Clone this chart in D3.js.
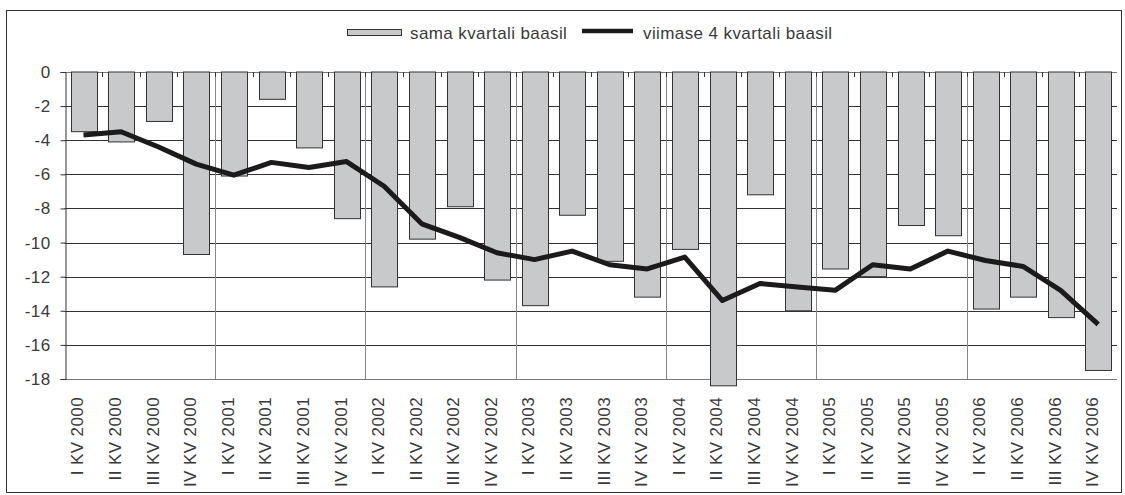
<!DOCTYPE html>
<html>
<head>
<meta charset="utf-8">
<script src="https://cdn.jsdelivr.net/npm/d3@7"></script>
<style>
  body { margin: 0; background: #fff; }
  svg { display: block; font-family: "Liberation Sans", Arial, sans-serif; }
</style>
</head>
<body>
<svg></svg>
<script>
// quarters, values in %
var categories = ['I KV 2000', 'II KV 2000', 'III KV 2000', 'IV KV 2000',
                  'I KV 2001', 'II KV 2001', 'III KV 2001', 'IV KV 2001',
                  'I KV 2002', 'II KV 2002', 'III KV 2002', 'IV KV 2002',
                  'I KV 2003', 'II KV 2003', 'III KV 2003', 'IV KV 2003',
                  'I KV 2004', 'II KV 2004', 'III KV 2004', 'IV KV 2004',
                  'I KV 2005', 'II KV 2005', 'III KV 2005', 'IV KV 2005',
                  'I KV 2006', 'II KV 2006', 'III KV 2006', 'IV KV 2006']
var samaKvartali = [-3.5, -4.1, -2.9, -10.7, -6.1, -1.6, -4.45, -8.6,
                    -12.6, -9.8, -7.9, -12.2, -13.7, -8.4, -11.1, -13.2,
                    -10.4, -18.4, -7.2, -14.0, -11.55, -12.0, -9.0, -9.6,
                    -13.9, -13.2, -14.4, -17.5]
var viimase4 = [-3.7, -3.5, -4.4, -5.4, -6.05, -5.3, -5.6, -5.25,
                -6.7, -8.9, -9.7, -10.6, -11.0, -10.5, -11.3, -11.55,
                -10.85, -13.4, -12.4, -12.6, -12.8, -11.3, -11.55, -10.5,
                -11.05, -11.4, -12.8, -14.8]
var yTicks = [0, -2, -4, -6, -8, -10, -12, -14, -16, -18]
var legendLabels = ['sama kvartali baasil', 'viimase 4 kvartali baasil']

function main() {
    var svgWidth = 1125, svgHeight = 495
    var left = 64.7, right = 1117, top = 72, bottom = 379
    var fontSize = 17, spacing = 0.4, textColor = '#3a3a3a'

    var svg = d3.select('svg').attr('width', svgWidth).attr('height', svgHeight)

    // outer frame
    svg.append('rect')
        .attr('x', 6.5).attr('y', 10.5)
        .attr('width', 1115).attr('height', 482)
        .attr('fill', 'none').attr('stroke', '#333').attr('stroke-width', 1)

    var xScale = d3.scaleBand()
        .domain(categories)
        .range([left, right])
        .paddingInner(0.32)
        .paddingOuter(0.16)
    var step = xScale.step()
    var boundary = function(d) {return Math.round(xScale(d) - xScale.paddingInner() * step / 2) + 0.5}

    var yScale = d3.scaleLinear()
        .domain([-18, 0])
        .range([bottom, top])

    // horizontal gridlines
    svg.append('g')
        .selectAll('line')
        .data(yTicks)
        .enter().append('line')
        .attr('x1', left).attr('x2', right)
        .attr('y1', function(d) {return Math.round(yScale(d)) + 0.5})
        .attr('y2', function(d) {return Math.round(yScale(d)) + 0.5})
        .attr('stroke', function(d) {return d === 0 || d === -18 ? '#777' : '#333'})
        .attr('stroke-width', 1)

    // year separators
    var yearStarts = categories.filter(function(d, i) {return i > 0 && i % 4 === 0})
    svg.append('g')
        .selectAll('line')
        .data(yearStarts)
        .enter().append('line')
        .attr('x1', boundary).attr('x2', boundary)
        .attr('y1', top).attr('y2', bottom)
        .attr('stroke', '#888').attr('stroke-width', 1)

    // small category ticks below zero line
    svg.append('g')
        .selectAll('line')
        .data(categories.slice(1))
        .enter().append('line')
        .attr('x1', boundary).attr('x2', boundary)
        .attr('y1', top).attr('y2', top + 5)
        .attr('stroke', '#333').attr('stroke-width', 1)

    // y axis
    var yAxis = d3.axisLeft(yScale).tickValues(yTicks).tickSize(5).tickPadding(10)
        .tickFormat(function(d) {return d === 0 ? '0' : '-' + Math.abs(d)})
    var gy = svg.append('g')
        .attr('transform', 'translate(' + (Math.round(left) + 0.5) + ',0)')
        .call(yAxis)
    gy.select('.domain').attr('stroke', '#333')
    gy.selectAll('.tick line').attr('stroke', '#333')
    gy.selectAll('.tick text')
        .attr('font-size', fontSize).attr('fill', textColor)
        .attr('letter-spacing', spacing)
        .attr('font-family', '"Liberation Sans", Arial, sans-serif')

    // bars
    svg.append('g')
        .selectAll('rect')
        .data(samaKvartali)
        .enter().append('rect')
        .attr('x', function(d, i) {return Math.round(xScale(categories[i])) + 0.5})
        .attr('y', yScale(0))
        .attr('width', Math.round(xScale.bandwidth()))
        .attr('height', function(d) {return yScale(d) - yScale(0)})
        .attr('fill', '#c8c9cb')
        .attr('stroke', '#333')
        .attr('stroke-width', 1)

    // line
    var line = d3.line()
        .x(function(d, i) {return xScale(categories[i]) + xScale.bandwidth() / 2})
        .y(function(d) {return yScale(d)})
    svg.append('path')
        .datum(viimase4)
        .attr('d', line)
        .attr('fill', 'none')
        .attr('stroke', '#1c1a1a')
        .attr('stroke-width', 5)
        .attr('stroke-linejoin', 'round')

    // x labels (rotated)
    svg.append('g')
        .selectAll('text')
        .data(categories)
        .enter().append('text')
        .attr('transform', function(d) {
            return 'translate(' + (xScale(d) + xScale.bandwidth() / 2 - 6) + ',397) rotate(-90)'})
        .attr('text-anchor', 'end')
        .attr('dy', '0.35em')
        .attr('font-size', fontSize)
        .attr('letter-spacing', spacing)
        .attr('fill', textColor)
        .text(function(d) {return d})

    // legend
    var legend = svg.append('g')
    legend.append('rect')
        .attr('x', 347.5).attr('y', 29.5)
        .attr('width', 54).attr('height', 6)
        .attr('fill', '#c8c9cb').attr('stroke', '#333')
    legend.append('text')
        .attr('x', 410).attr('y', 39)
        .attr('font-size', fontSize).attr('letter-spacing', spacing).attr('fill', textColor)
        .text(legendLabels[0])
    legend.append('line')
        .attr('x1', 582).attr('x2', 633)
        .attr('y1', 31).attr('y2', 31)
        .attr('stroke', '#1c1a1a').attr('stroke-width', 4.5)
    legend.append('text')
        .attr('x', 643).attr('y', 39)
        .attr('font-size', fontSize).attr('letter-spacing', spacing).attr('fill', textColor)
        .text(legendLabels[1])
}

main()
</script>
</body>
</html>
